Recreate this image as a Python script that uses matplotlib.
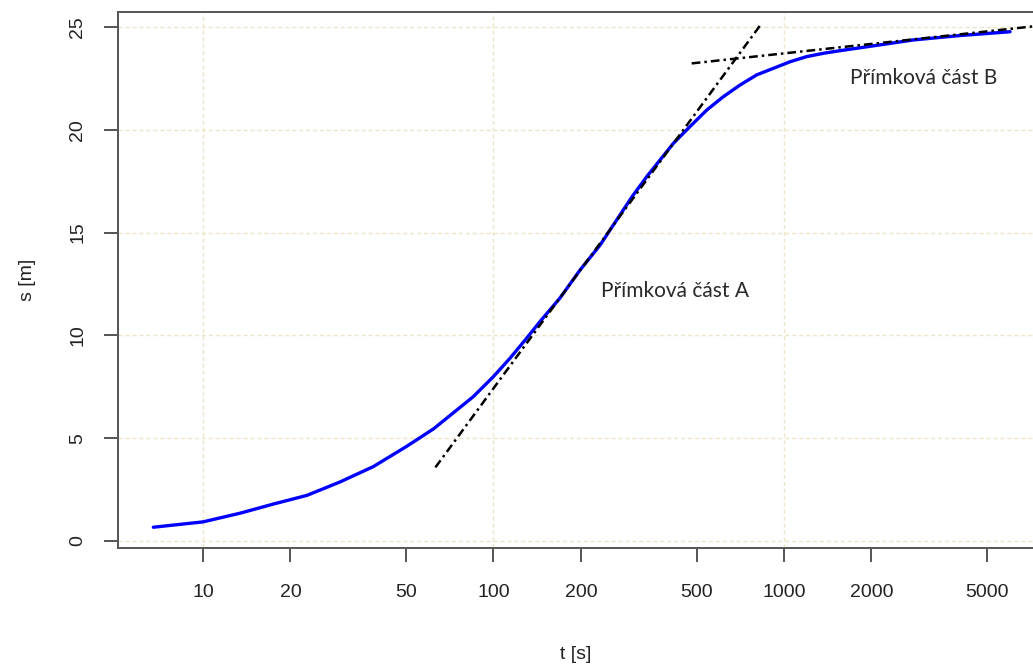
import matplotlib

matplotlib.use("Agg")
import matplotlib.pyplot as plt

# krivka s(t)
T_KRIVKA = [6.75, 10, 13.4, 17.5, 22.8, 29.6, 38.6, 50.2, 62.1, 70.8, 85.2,
            100, 114, 130, 144.5, 169, 198.6, 233, 258, 300, 336.8, 416, 474,
            542, 618, 706, 805, 919, 1049, 1197, 1365, 1560, 2000, 2787, 4000,
            6000]
S_KRIVKA = [0.67, 0.93, 1.35, 1.80, 2.22, 2.87, 3.62, 4.6, 5.45, 6.1, 7.02,
            8.0, 8.89, 9.86, 10.67, 11.8, 13.18, 14.4, 15.35, 16.75, 17.72,
            19.34, 20.15, 20.96, 21.61, 22.18, 22.67, 22.99, 23.31, 23.56,
            23.72, 23.85, 24.07, 24.37, 24.58, 24.77]

# primkove casti (konce usecek)
T_PRIMKA_A = [63.1, 838]
S_PRIMKA_A = [3.58, 25.18]
T_PRIMKA_B = [481, 7195]
S_PRIMKA_B = [23.23, 25.03]

X_TICKS = [10, 20, 50, 100, 200, 500, 1000, 2000, 5000]
Y_TICKS = [0, 5, 10, 15, 20, 25]
X_GRID = [10, 100, 1000]

POPISKY = [("Přímková část A", 421, 12.16), ("Přímková část B", 3034, 22.52)]

plt.rcParams["font.family"] = ["Liberation Sans", "DejaVu Sans"]

fig = plt.figure(figsize=(10.33, 6.64), dpi=100)
ax = fig.add_axes([0.11423, 0.1747, 0.88577, 0.80723])
ax.set_xscale("log")
ax.set_xlim(5.10, 7195)
ax.set_ylim(-0.34, 25.73)

# mrizka
mriz = dict(color="#ede5c8", linewidth=1.0, linestyle=(0, (3, 2)), zorder=0)
for g in X_GRID:
    ax.axvline(g, **mriz)
for g in Y_TICKS:
    ax.axhline(g, **mriz)

ax.plot(T_KRIVKA, S_KRIVKA, color="#0000ff", linewidth=2.4, zorder=2,
        solid_capstyle="round", solid_joinstyle="round")
cara = dict(color="black", linewidth=1.8, linestyle=(0, (3.5, 1.6, 1.0, 1.6)), zorder=3)
ax.plot(T_PRIMKA_A, S_PRIMKA_A, **cara)
ax.plot(T_PRIMKA_B, S_PRIMKA_B, **cara)

for text, tx, sy in POPISKY:
    ax.text(tx, sy, text, ha="center", va="center", fontsize=15,
            family=["Lato", "DejaVu Sans"], color="#2a2a2a")

ax.set_xticks(X_TICKS)
ax.set_xticklabels([str(v) for v in X_TICKS])
ax.minorticks_off()
ax.set_yticks(Y_TICKS)
ax.set_yticklabels([str(v) for v in Y_TICKS], rotation=90, va="center")

for s in ["left", "bottom", "top"]:
    ax.spines[s].set_color("#555555")
    ax.spines[s].set_linewidth(1.4)
ax.spines["right"].set_visible(False)

ax.tick_params(axis="both", colors="#555555", length=10, width=1.4,
               labelsize=14, labelcolor="#222222")
ax.tick_params(axis="x", pad=16)
ax.tick_params(axis="y", pad=13)

ax.set_xlabel("t [s]", fontsize=14, color="#222222", labelpad=32)
ax.set_ylabel("s [m]", fontsize=14, color="#222222", labelpad=24)

fig.savefig("out.png", dpi=100)
